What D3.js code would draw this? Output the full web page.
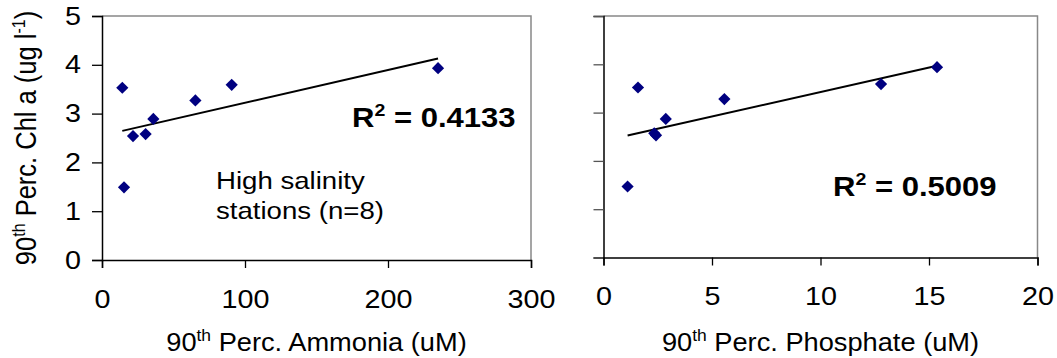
<!DOCTYPE html>
<html><head><meta charset="utf-8">
<script src="https://cdn.jsdelivr.net/npm/d3@7"></script>
<style>
html,body{margin:0;padding:0;background:#fff;}
svg{display:block;font-family:Arial,"Liberation Sans",sans-serif;}
</style></head>
<body>
<svg id="c" width="1057" height="358"></svg>
<script>
// Data
const ammonia = [14.2, 15.4, 21.7, 30.5, 35.9, 65.3, 90.7, 235];
const chlAmmonia = [3.53, 1.49, 2.54, 2.58, 2.89, 3.27, 3.59, 3.93];
const phosphate = [1.11, 1.59, 2.34, 2.42, 2.87, 5.57, 12.79, 15.37];
const chlPhosphate = [1.47, 3.52, 2.57, 2.53, 2.87, 3.28, 3.59, 3.94];
const yTicks = [0, 1, 2, 3, 4, 5];
const xTicksAmmonia = [0, 100, 200, 300];
const xTicksPhosphate = [0, 5, 10, 15, 20];
const r2Labels = ["0.4133", "0.5009"];

const svg = d3.select("#c");
const FS = 25;
const SX = 1.15;   // horizontal stretch of the lettering
const SX_TITLE = 1.09;
const FONT = "Arial, 'Liberation Sans', sans-serif";

function stretchAt(sel, x, y, sx){
  sel.attr("transform", `translate(${x},${y}) scale(${sx},1) translate(${-x},${-y})`);
}

function regression(xs, ys){
  const n = xs.length, mx = d3.mean(xs), my = d3.mean(ys);
  let sxy = 0, sxx = 0;
  for (let i=0;i<n;i++){ sxy += (xs[i]-mx)*(ys[i]-my); sxx += (xs[i]-mx)**2; }
  const b = sxy/sxx; return {b, a: my - b*mx};
}

function panel(o){
  const x = d3.scaleLinear().domain(o.xDomain).range([o.x0, o.x1]);
  const y = d3.scaleLinear().domain([0,5]).range([o.y1, o.y0]);
  const g = svg.append("g");
  g.append("path").attr("d", `M${o.x0},${o.y0}H${o.x1}V${o.y1}`)
    .attr("fill","none").attr("stroke","#888").attr("stroke-width",1.5);
  const ya = g.append("g").attr("transform",`translate(${o.x0},0)`)
    .call(d3.axisLeft(y).tickValues(yTicks).tickSize(10).tickPadding(11).tickFormat(o.yLabels ? d3.format("d") : ""));
  ya.select(".domain").attr("stroke","#000").attr("stroke-width",1.5);
  ya.selectAll(".tick line").attr("stroke", o.yLabels ? "#000" : "#555").attr("stroke-width",1.3);
  ya.selectAll("text").attr("font-size",FS).attr("fill","#000").attr("font-family",FONT)
    .each(function(){ const t = d3.select(this); stretchAt(t, +t.attr("x"), 0, SX); });
  const xa = g.append("g").attr("transform",`translate(0,${o.y1})`)
    .call(d3.axisBottom(x).tickValues(o.xTicks).tickSize(8).tickPadding(22).tickFormat(d3.format("d")));
  xa.select(".domain").attr("stroke","#000").attr("stroke-width",1.5);
  xa.selectAll(".tick line").attr("stroke","#000").attr("stroke-width",1.3);
  xa.selectAll("text").attr("font-size",FS).attr("fill","#000").attr("font-family",FONT)
    .each(function(){ stretchAt(d3.select(this), 0, 0, SX); });
  // trend line
  const r = regression(o.xs, o.ys);
  const xmin = d3.min(o.xs), xmax = d3.max(o.xs);
  g.append("line")
    .attr("x1", x(xmin)).attr("y1", y(r.a + r.b*xmin))
    .attr("x2", x(xmax)).attr("y2", y(r.a + r.b*xmax))
    .attr("stroke","#000").attr("stroke-width",2);
  g.selectAll("path.pt").data(o.xs.map((v,i)=>[v,o.ys[i]])).join("path")
    .attr("class","pt")
    .attr("d", d3.symbol().type(d3.symbolDiamond2).size(95))
    .attr("transform", d=>`translate(${x(d[0])},${y(d[1])})`)
    .attr("fill","#000080");
  // x title
  const cx = (o.x0+o.x1)/2;
  const t = g.append("text").attr("x",cx).attr("y",351)
    .attr("text-anchor","middle").attr("font-size",FS);
  t.append("tspan").text("90");
  t.append("tspan").text("th").attr("font-size",16).attr("dy",-10);
  t.append("tspan").text(" Perc. " + o.xName + " (uM)").attr("dy",10);
  stretchAt(t, cx, 351, SX_TITLE);
  // R2
  const rt = g.append("text").attr("x",o.r2x).attr("y",o.r2y)
    .attr("font-size",27).attr("font-weight","bold");
  rt.append("tspan").text("R");
  rt.append("tspan").text("2").attr("font-size",17).attr("dy",-11);
  rt.append("tspan").text(" = " + o.r2).attr("dy",11);
  stretchAt(rt, o.r2x, o.r2y, SX);
  return {x,y,g};
}

panel({x0:102, x1:531, y0:16, y1:260, xDomain:[0,300], xTicks:xTicksAmmonia,
  xs:ammonia, ys:chlAmmonia, yLabels:true, xName:"Ammonia", r2:r2Labels[0], r2x:352, r2y:127});
panel({x0:603.5, x1:1037.5, y0:16, y1:257.5, xDomain:[0,20], xTicks:xTicksPhosphate,
  xs:phosphate, ys:chlPhosphate, yLabels:false, xName:"Phosphate", r2:r2Labels[1], r2x:833, r2y:196});

// annotation
const a1 = svg.append("text").attr("x",216).attr("y",189).attr("font-size",24).text("High salinity");
stretchAt(a1, 216, 189, SX);
const a2 = svg.append("text").attr("x",216).attr("y",219).attr("font-size",24).text("stations (n=8)");
stretchAt(a2, 216, 219, SX);

// y title
const yt = svg.append("text").attr("transform",`translate(36,138) rotate(-90) scale(1,${SX})`)
  .attr("text-anchor","middle").attr("font-size",25.5);
yt.append("tspan").text("90");
yt.append("tspan").text("th").attr("font-size",16).attr("dy",-10);
yt.append("tspan").text(" Perc. Chl a (ug l").attr("dy",10);
yt.append("tspan").text("-1").attr("font-size",16).attr("dy",-10);
yt.append("tspan").text(")").attr("dy",10);
</script>
</body></html>
